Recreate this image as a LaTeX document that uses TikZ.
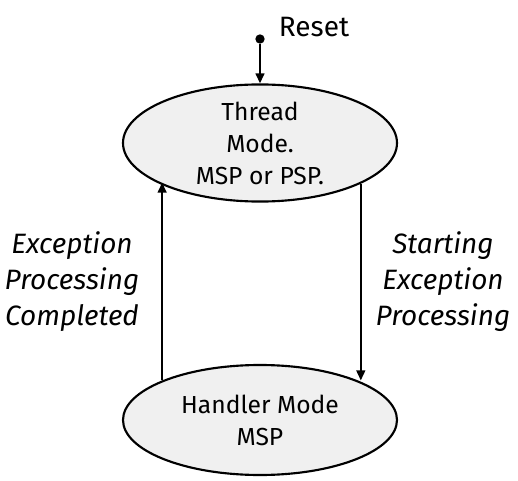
\documentclass[tikz,border=0pt]{standalone}
\usepackage{fontspec}
\setmainfont{Fira Sans}
\usetikzlibrary{shapes,arrows.meta,calc}

\begin{document}
\begin{tikzpicture}[x=0.75pt,y=-0.75pt,
        StateStyle/.style = { ellipse, draw, line width=1.6pt,
          fill = black!6, inner sep=0pt, align=center,
          minimum width=205.5pt,
          font = \fontsize{18.5}{24}\selectfont},
        LabelStyle/.style = { align=center,
          font = \fontsize{21}{27}\selectfont\itshape},
        EdgeStyle/.style = { line width=1.6pt,
          -{Triangle[length=7.5pt,width=6.5pt]}}
      ]
      \useasboundingbox (0,0) rectangle (518,481);
      % states
      \node[StateStyle, minimum height=78pt] (Thread) at (260,143)
        {Thread\\Mode.\\MSP or PSP.};
      \node[StateStyle, minimum height=82.5pt] (Handler) at (260,420)
        {Handler Mode\\MSP};
      % reset
      \node[circle, fill, inner sep=0pt, minimum size=7pt] (ResetDot) at (260,39) {};
      \node[font=\fontsize{21}{27}\selectfont] (Reset) at (314,27) {Reset};
      \draw[EdgeStyle] (ResetDot) -- (Thread);
      % transitions
      \draw[EdgeStyle] (Handler.158) -- (Handler.158 |- Thread.201);
      \draw[EdgeStyle] (Thread.338.5) -- (Thread.338.5 |- Handler.22.6);
      \node[LabelStyle] (Completed) at (72,282)
        {Exception\\Processing\\Completed};
      \node[LabelStyle] (Starting) at (443,282)
        {Starting\\Exception\\Processing};
    \end{tikzpicture}
\end{document}
